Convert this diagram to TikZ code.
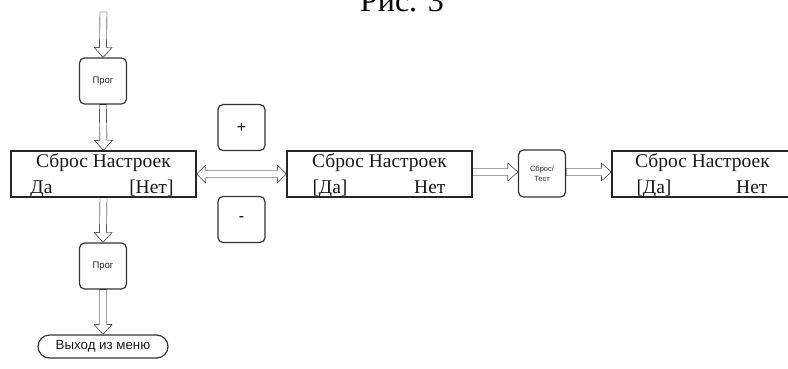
\documentclass[tikz,border=0pt]{standalone}
\usepackage{fontspec}
\setmainfont{Liberation Serif}
\newfontfamily\arialfont{Liberation Sans}
\usetikzlibrary{calc,shapes.misc}
\definecolor{linec}{HTML}{262626}
\definecolor{rboxc}{HTML}{333333}
\tikzset{
  bigbox/.style={draw=linec, line width=1.4pt, minimum width=185pt, minimum height=46pt, inner sep=0pt},
  rbox/.style={draw=rboxc, line width=1.2pt, rounded corners=5pt, minimum width=47pt, minimum height=46pt, inner sep=0pt, font=\arialfont\fontsize{9.5}{11}\selectfont, text=black!85},
  stadium/.style={draw=rboxc, line width=1.2pt, rounded rectangle, minimum width=130pt, minimum height=23pt, inner sep=0pt, font=\arialfont\fontsize{13.3}{15}\selectfont, text=black!90},
  boxtxt/.style={font=\fontsize{19.5}{24}\selectfont, inner sep=0pt, text=black!90},
  harrow/.style={draw=linec, line width=1.2pt, line join=miter, to path={
    let \p1=(\tikztostart), \p2=(\tikztotarget), \n1={atan2(\y2-\y1,\x2-\x1)}, \n2={veclen(\x2-\x1,\y2-\y1)} in
    {[shift={(\p1)}, rotate=\n1]
      (0pt,-3.5pt) -- (\n2-10pt,-3.5pt) -- (\n2-10pt,-9pt) -- (\n2,0pt)
      -- (\n2-10pt,9pt) -- (\n2-10pt,3.5pt) -- (0pt,3.5pt) -- cycle}}},
  harrowboth/.style={draw=linec, line width=1.2pt, line join=miter, to path={
    let \p1=(\tikztostart), \p2=(\tikztotarget), \n1={atan2(\y2-\y1,\x2-\x1)}, \n2={veclen(\x2-\x1,\y2-\y1)} in
    {[shift={(\p1)}, rotate=\n1]
      (0pt,0pt) -- (9pt,-9pt) -- (9pt,-3.5pt) -- (\n2-9pt,-3.5pt) -- (\n2-9pt,-9pt) -- (\n2,0pt)
      -- (\n2-9pt,9pt) -- (\n2-9pt,3.5pt) -- (9pt,3.5pt) -- (9pt,9pt) -- cycle}}}
}
\begin{document}
\begin{tikzpicture}[x=1pt,y=-1pt]
\useasboundingbox (0,0) rectangle (788,368);
\clip (0,0) rectangle (788,368);
\fill[white] (0,0) rectangle (788,368);

\node[anchor=base, font=\fontsize{32}{32}\selectfont, inner sep=0pt] (cap) at (402,11) {Рис. 3};

\coordinate (top) at (103.5,12);
\node[rbox] (prog1) at (103,81) {Прог};
\node[bigbox] (box1) at (103.5,174) {};
\node[rbox, font=\arialfont\fontsize{16}{18}\selectfont, text=black] (plus) at (241.5,127.5) {+};
\node[rbox, font=\arialfont\fontsize{16}{18}\selectfont, text=black] (minus) at (241.5,219.5) {-};
\node[bigbox] (box2) at (379.5,174) {};
\node[rbox, minimum height=47pt, font=\arialfont\fontsize{7.5}{10}\selectfont, align=center] (reset) at (542,173.5) {Сброс/\\Тест};
\node[bigbox] (box3) at (704.5,174) {};
\node[rbox] (prog2) at (103,266) {Прог};
\node[stadium] (exit) at (103,346.5) {Выход из меню};

% box texts
\node[boxtxt, anchor=base] (t1) at ($(box1.north)+(0,17)$) {Сброс Настроек};
\node[boxtxt, anchor=base west] (y1) at ($(box1.south west)+(20,-4)$) {Да};
\node[boxtxt, anchor=base east] (n1) at ($(box1.south east)+(-23,-4)$) {[Нет]};
\node[boxtxt, anchor=base] (t2) at ($(box2.north)+(0,17)$) {Сброс Настроек};
\node[boxtxt, anchor=base west] (y2) at ($(box2.south west)+(26,-4)$) {[Да]};
\node[boxtxt, anchor=base east] (n2) at ($(box2.south east)+(-27,-4)$) {Нет};
\node[boxtxt, anchor=base] (t3) at ($(box3.north)+(-2,17)$) {Сброс Настроек};
\node[boxtxt, anchor=base west] (y3) at ($(box3.south west)+(25,-4)$) {[Да]};
\node[boxtxt, anchor=base east] (n3) at ($(box3.south east)+(-30,-4)$) {Нет};

% connectors
\draw (top) to[harrow] (prog1.north);
\draw (prog1.south) to[harrow] (box1.north);
\draw (box1.south) to[harrow] (prog2.north);
\draw (prog2.south) to[harrow] (exit.north);
\draw (box1.east) to[harrowboth] (box2.west);
\draw ($(box2.east)+(0,-2)$) to[harrow] ($(reset.west)+(0,-1.5)$);
\draw ($(reset.east)+(0,-1.5)$) to[harrow] ($(box3.west)+(0,-2)$);
\end{tikzpicture}
\end{document}
